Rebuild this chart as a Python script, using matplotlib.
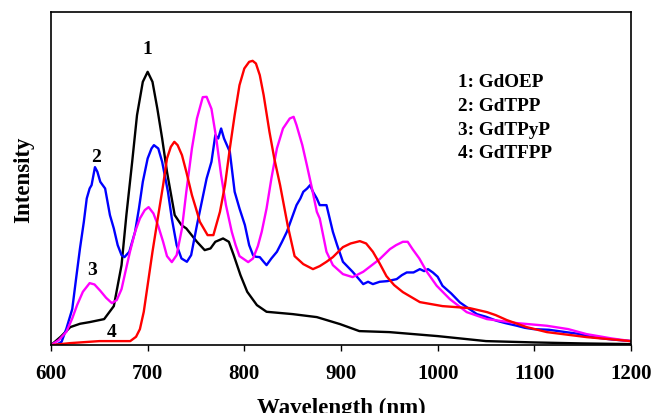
import matplotlib
matplotlib.use("Agg")
import matplotlib.pyplot as plt

# 1: GdOEP (black)
wl_oep = [600, 610, 620, 630, 640, 655, 665, 673, 678, 684, 689, 695, 700, 705, 710, 715, 720, 728,
          735, 740, 751, 759, 765, 770, 778, 784, 789, 796, 803, 813, 823, 850, 875, 899, 919, 950,
          1000, 1050, 1100, 1150, 1200]
int_oep = [0.0, 0.025, 0.054, 0.064, 0.069, 0.078, 0.117, 0.24, 0.39, 0.55, 0.69, 0.79, 0.82, 0.79,
           0.71, 0.62, 0.52, 0.39, 0.36, 0.35, 0.31, 0.285, 0.29, 0.31, 0.32, 0.31, 0.27, 0.21, 0.16,
           0.12, 0.10, 0.093, 0.084, 0.063, 0.042, 0.039, 0.027, 0.012, 0.008, 0.005, 0.003]

# 2: GdTPP (blue)
wl_tpp = [600, 605, 611, 616, 622, 626, 630, 634, 637, 640, 642, 645.5, 648, 651, 656, 661, 665, 669,
          673, 676, 681, 687, 691, 695, 700, 704, 706.5, 711, 715, 721, 725, 730, 735, 740.6, 745,
          751, 756, 761, 766, 770, 773, 776, 779, 782, 785, 790, 795, 800.6, 805, 809, 812, 816, 820,
          823, 828, 833.7, 839, 844, 849, 854, 858, 861, 865, 868, 871, 875, 878, 885, 891.6, 896,
          902, 907, 912, 918, 923, 928, 933, 940, 948, 957.6, 963, 968, 975, 981.6, 986, 990, 995,
          1000, 1005, 1014, 1023, 1032, 1040.5, 1050, 1061, 1070, 1082, 1090, 1099, 1115, 1130,
          1145, 1160, 1180, 1200]
int_tpp = [0.0, 0.0, 0.01, 0.05, 0.108, 0.2, 0.29, 0.37, 0.44, 0.47, 0.48, 0.534, 0.52, 0.49, 0.47,
           0.39, 0.35, 0.30, 0.27, 0.264, 0.28, 0.34, 0.41, 0.49, 0.56, 0.59, 0.60, 0.59, 0.55, 0.46,
           0.38, 0.30, 0.26, 0.25, 0.27, 0.36, 0.43, 0.50, 0.55, 0.63, 0.62, 0.65, 0.62, 0.60, 0.58,
           0.46, 0.41, 0.36, 0.30, 0.27, 0.265, 0.264, 0.25, 0.24, 0.26, 0.28, 0.31, 0.34, 0.38,
           0.42, 0.44, 0.46, 0.47, 0.48, 0.46, 0.44, 0.42, 0.42, 0.34, 0.30, 0.25, 0.235, 0.22, 0.20,
           0.183, 0.19, 0.183, 0.19, 0.192, 0.198, 0.21, 0.218, 0.218, 0.228, 0.222, 0.228, 0.218,
           0.205, 0.178, 0.155, 0.128, 0.11, 0.093, 0.085, 0.073, 0.066, 0.058, 0.052, 0.048, 0.046,
           0.04, 0.034, 0.024, 0.017, 0.012]

# 3: GdTPyP (magenta)
wl_tpyp = [600, 608, 616, 622, 627, 633, 640, 645, 651, 657, 663, 668, 673, 677, 681.7, 687, 692,
           697, 701, 706, 711, 716, 720, 725, 730, 735.5, 740, 745.8, 751, 757, 761, 766, 771, 776,
           781, 787, 791, 795, 804, 809, 814, 818, 823, 828, 833.7, 840, 847, 851, 854, 860, 864.7,
           870, 875, 878, 885, 891.6, 902, 912, 923, 932, 940, 950.6, 957, 964, 969, 974, 981,
           988.8, 999, 1012.6, 1030, 1051, 1082, 1113, 1135, 1154, 1180, 1200]
int_tpyp = [0.0, 0.015, 0.04, 0.08, 0.12, 0.16, 0.186, 0.182, 0.163, 0.142, 0.126, 0.135, 0.168,
            0.22, 0.28, 0.34, 0.38, 0.405, 0.414, 0.395, 0.357, 0.31, 0.267, 0.249, 0.27, 0.35,
            0.46, 0.59, 0.68, 0.744, 0.745, 0.709, 0.62, 0.51, 0.42, 0.34, 0.30, 0.267, 0.249, 0.26,
            0.297, 0.34, 0.41, 0.50, 0.59, 0.65, 0.68, 0.685, 0.66, 0.60, 0.54, 0.47, 0.40, 0.38,
            0.28, 0.24, 0.213, 0.204, 0.22, 0.24, 0.258, 0.288, 0.30, 0.31, 0.31, 0.288, 0.26, 0.22,
            0.178, 0.138, 0.099, 0.078, 0.066, 0.058, 0.048, 0.033, 0.02, 0.012]

# 4: GdTFPP (red)
wl_tfpp = [600, 620, 650, 682, 688, 692, 696, 700, 705, 711, 716, 720, 724, 727.6, 731, 735.5, 740,
           745.8, 750, 754, 762, 768, 774.8, 780, 785, 790, 795, 800, 805, 808.6, 812, 816, 820, 826,
           831, 837, 845, 852, 861, 871, 878, 885, 891.6, 902, 910, 919.5, 926, 933, 940, 947, 955,
           964, 981.6, 1005, 1033, 1051, 1060, 1071.6, 1092, 1113, 1154, 1200]
int_tfpp = [0.0, 0.006, 0.012, 0.012, 0.025, 0.048, 0.1, 0.18, 0.28, 0.39, 0.48, 0.56, 0.595, 0.61,
            0.6, 0.57, 0.52, 0.45, 0.41, 0.37, 0.33, 0.33, 0.40, 0.48, 0.59, 0.69, 0.78, 0.83, 0.85,
            0.853, 0.845, 0.81, 0.75, 0.64, 0.56, 0.48, 0.357, 0.267, 0.243, 0.228, 0.237, 0.25,
            0.264, 0.294, 0.305, 0.312, 0.305, 0.28, 0.245, 0.207, 0.18, 0.159, 0.129, 0.117, 0.111,
            0.099, 0.09, 0.075, 0.054, 0.039, 0.024, 0.012]

labels = ["1: GdOEP", "2: GdTPP", "3: GdTPyP", "4: GdTFPP"]
x_ticks = [600, 700, 800, 900, 1000, 1100, 1200]

plt.rcParams['font.family'] = ['Liberation Serif', 'DejaVu Serif']
plt.rcParams['font.weight'] = 'bold'

fig = plt.figure(figsize=(6.51, 4.14), dpi=100)
ax = fig.add_axes([0.0783, 0.164, 0.891, 0.805])

ax.plot(wl_oep, int_oep, color='black', lw=1.7)
ax.plot(wl_tpp, int_tpp, color='#0000ff', lw=1.7)
ax.plot(wl_tpyp, int_tpyp, color='#ff00ff', lw=1.7)
ax.plot(wl_tfpp, int_tfpp, color='#ff0000', lw=1.7)

# curve numbers
ax.text(700, 0.865, "1", fontsize=14, fontweight='bold', ha='center', va='bottom')
ax.text(647, 0.54, "2", fontsize=14, fontweight='bold', ha='center', va='bottom')
ax.text(642, 0.2, "3", fontsize=14, fontweight='bold', ha='center', va='bottom')
ax.text(663, 0.015, "4", fontsize=14, fontweight='bold', ha='center', va='bottom')

# legend as text
for i, lab in enumerate(labels):
    ax.text(0.702, 0.79 - i * 0.071, lab, transform=ax.transAxes, fontsize=13.8,
            fontweight='bold', ha='left', va='center')

ax.set_xlim(600, 1200)
ax.set_ylim(0, 1)
ax.set_xticks(x_ticks)
ax.set_yticks([])
ax.tick_params(axis='x', direction='out', length=4, width=1, labelsize=15, pad=9)
for lab in ax.get_xticklabels():
    lab.set_fontweight('bold')
for sp in ax.spines.values():
    sp.set_linewidth(1.2)

ax.set_xlabel("Wavelength (nm)", fontsize=16.5, fontweight='bold', labelpad=10)
ax.set_ylabel("Intensity", fontsize=16.5, fontweight='bold', labelpad=12)

fig.savefig("out.png", dpi=100)
